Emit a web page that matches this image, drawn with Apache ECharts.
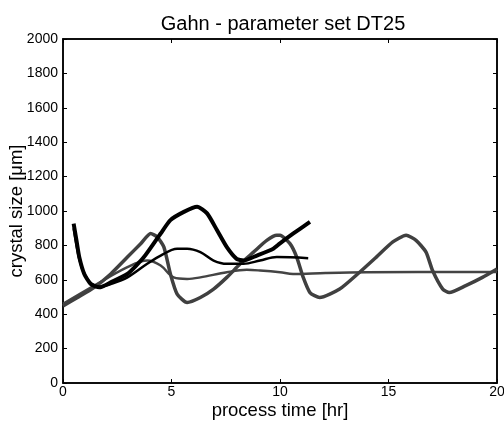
<!DOCTYPE html>
<html><head><meta charset="utf-8">
<script src="https://cdn.jsdelivr.net/npm/echarts@6/dist/echarts.min.js"></script>
<style>html,body{margin:0;padding:0;background:#fff}#c{width:504px;height:426px}</style>
</head><body><div id="c"></div>
<script>
const titleText = 'Gahn - parameter set DT25';
const xName = 'process time [hr]';
const yName = 'crystal size [\u03bcm]';

// black noisy (measured)
const blackNoisy = [[0.49,927],[0.62,830],[0.75,732],[0.98,634],[1.28,575],[1.67,556],[2.2,585],[2.97,634],[3.73,732],[4.5,869],[4.95,947],[5.57,995],[6.18,1025],[6.64,986],[7.1,888],[7.55,790],[8.0,722],[8.32,712],[8.93,741],[9.69,781],[10.0,812],[10.6,868],[11.38,937]];
// black smooth (model)
const blackSmooth = [[0.49,900],[0.75,720],[1.0,630],[1.3,578],[1.7,560],[2.2,575],[2.97,614],[3.88,693],[4.5,741],[5.26,781],[5.72,781],[6.33,761],[6.94,712],[7.55,693],[8.32,693],[9.08,712],[9.85,732],[11.3,726]];
// gray noisy (measured)
const grayNoisy = [[0,448],[0.67,497],[1.44,556],[2.2,634],[2.97,732],[3.58,810],[4.04,869],[4.34,849],[4.65,790],[4.95,634],[5.26,517],[5.72,468],[6.33,497],[6.94,546],[7.55,614],[8.17,693],[8.78,761],[9.39,829],[9.85,859],[10.0,859],[10.46,810],[10.77,732],[11.07,614],[11.38,526],[11.83,497],[12.75,546],[13.67,644],[14.44,732],[15.2,820],[15.81,859],[16.27,829],[16.73,761],[17.03,654],[17.5,546],[17.8,526],[18.56,566],[19.33,614],[20.0,663]];
// gray smooth (model)
const graySmooth = [[0,460],[1.44,566],[2.97,673],[3.88,712],[4.5,683],[5.1,614],[5.72,605],[6.33,614],[7.55,644],[8.47,658],[9.08,654],[10.0,644],[10.6,634],[12.1,640],[14,644],[20,645]];

const font = 'Liberation Sans, Arial, sans-serif';
const chart = echarts.init(document.getElementById('c'));
function ax(extra){
  return Object.assign({
    type:'value',
    axisLine:{show:true,onZero:false,lineStyle:{color:'#000',width:1.5}},
    axisTick:{show:true,inside:true,length:4,lineStyle:{color:'#000',width:1}},
    splitLine:{show:false}
  }, extra);
}
const lbl = {fontFamily:font,fontSize:14,color:'#000',margin:5,formatter:v=>String(v)};
chart.setOption({
  animation:false,
  backgroundColor:'#fff',
  title:{text:titleText,left:278,textAlign:'center',top:9,textStyle:{fontFamily:font,fontSize:20,fontWeight:'normal',color:'#000'}},
  grid:{left:63,right:7,top:39,bottom:43,containLabel:false,outerBoundsMode:'none',show:true,borderColor:'#000',borderWidth:1.5,backgroundColor:'transparent'},
  xAxis:[
    ax({min:0,max:20,interval:5,position:'bottom',name:xName,nameLocation:'middle',nameGap:18,nameMoveOverlap:false,
      nameTextStyle:{fontFamily:font,fontSize:18.5,color:'#000'},axisLabel:Object.assign({},lbl,{margin:2})}),
    ax({min:0,max:20,interval:5,position:'top',axisLabel:{show:false}})
  ],
  yAxis:[
    ax({min:0,max:2000,interval:200,position:'left',name:yName,nameLocation:'middle',nameGap:37,nameMoveOverlap:false,
      nameTextStyle:{fontFamily:font,fontSize:18.5,color:'#000'},axisLabel:Object.assign({},lbl)}),
    ax({min:0,max:2000,interval:200,position:'right',axisLabel:{show:false}})
  ],
  series:[
    {type:'line',data:graySmooth,showSymbol:false,symbol:'none',smooth:0.35,lineStyle:{color:'#444',width:2.5}},
    {type:'line',data:grayNoisy,showSymbol:false,symbol:'none',smooth:0.2,lineStyle:{color:'#404040',width:3.5}},
    {type:'line',data:blackSmooth,showSymbol:false,symbol:'none',smooth:0.35,lineStyle:{color:'#000',width:2.5}},
    {type:'line',data:blackNoisy,showSymbol:false,symbol:'none',smooth:0.2,lineStyle:{color:'#000',width:4}}
  ]
});
</script></body></html>
